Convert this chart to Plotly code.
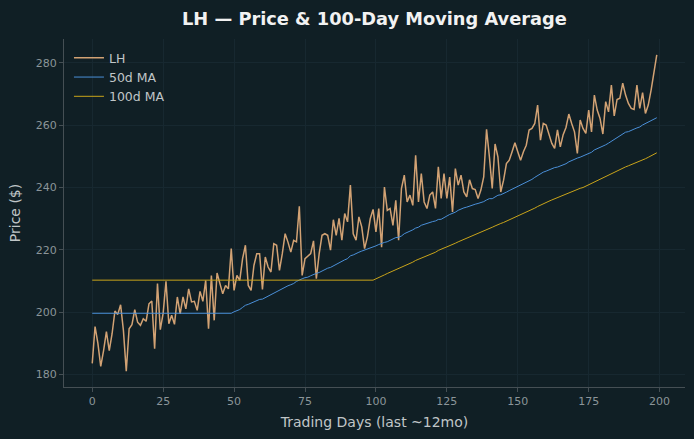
import plotly.graph_objects as go
import pandas as pd

days = list(range(200))
price = [
    183.6, 195.4, 190.0, 182.6, 187.7, 193.8, 187.7, 193.1, 200.4, 199.3,
    202.4, 194.1, 181.1, 194.7, 196.0, 200.8, 196.8, 195.8, 197.9, 197.1,
    202.7, 203.6, 188.3, 209.2, 194.4, 199.7, 209.9, 196.3, 199.0, 196.1,
    204.9, 199.5, 204.9, 201.1, 207.5, 203.3, 203.5, 200.6, 206.7, 203.5,
    210.2, 194.7, 211.8, 197.4, 212.6, 209.2, 205.9, 208.6, 207.5, 220.4,
    207.0, 211.8, 210.2, 217.2, 221.5, 208.6, 207.0, 215.0, 218.8, 218.8,
    207.3, 217.7, 214.5, 212.9, 222.0, 221.5, 213.4, 218.8, 225.2, 222.5,
    219.3, 223.1, 222.6, 234.0, 211.8, 217.2, 217.9, 218.8, 222.9, 210.8,
    218.8, 224.7, 225.2, 224.7, 219.9, 229.7, 224.7, 230.1, 223.1, 231.7,
    229.0, 240.8, 225.2, 223.1, 230.6, 227.4, 220.4, 224.2, 230.0, 233.0,
    225.8, 233.3, 220.9, 240.2, 232.7, 233.3, 227.9, 235.9, 223.1, 239.7,
    244.0, 235.4, 237.6, 234.3, 250.4, 235.4, 244.5, 235.4, 233.3, 237.6,
    238.6, 233.3, 246.7, 236.5, 244.5, 236.5, 243.4, 232.2, 246.1, 240.8,
    244.0, 238.6, 237.0, 242.5, 239.7, 239.4, 236.5, 239.2, 243.4, 258.7,
    249.9, 239.7, 254.0, 249.9, 238.6, 242.4, 247.7, 248.8, 251.5, 254.4,
    251.5, 248.8, 251.5, 253.6, 258.5, 259.0, 260.6, 266.5, 255.2, 260.6,
    260.1, 257.4, 254.2, 252.6, 258.5, 253.1, 257.0, 259.3, 263.6, 260.6,
    257.9, 251.0, 261.7, 259.0, 257.4, 264.9, 257.9, 269.7, 264.9, 262.2,
    257.2, 267.6, 264.3, 272.9, 263.0, 268.3, 268.7, 273.5, 269.7, 267.0,
    265.4, 265.1, 272.9, 265.4, 270.5, 263.8, 266.5, 271.3, 277.2, 282.6,
]
x_ticks = [0, 25, 50, 75, 100, 125, 150, 175, 200]
y_ticks = [180, 200, 220, 240, 260, 280]

s = pd.Series(price)
ma50 = s.rolling(50).mean().bfill().tolist()
ma100 = s.rolling(100).mean().bfill().tolist()

BG = "#101f25"
GRID = "#172830"
SPINE = "#454f54"
TICK = "#8b9599"
LABEL = "#c0c6c8"

fig = go.Figure()
fig.add_trace(go.Scatter(x=days, y=price, mode="lines", name="LH",
                         line=dict(color="#d2a274", width=1.5)))
fig.add_trace(go.Scatter(x=days, y=ma50, mode="lines", name="50d MA",
                         line=dict(color="#4a8fd8", width=1)))
fig.add_trace(go.Scatter(x=days, y=ma100, mode="lines", name="100d MA",
                         line=dict(color="#c9a41a", width=1)))

fig.update_layout(
    width=694, height=439,
    paper_bgcolor=BG, plot_bgcolor=BG,
    margin=dict(l=64, r=9, t=39, b=52),
    font=dict(family="DejaVu Sans", color=LABEL, size=11),
    title=dict(text="<b>LH — Price & 100-Day Moving Average</b>",
               x=0.5395, xanchor="center", y=0.958, yanchor="middle",
               font=dict(size=17.8, color="#f2f2f2", family="DejaVu Sans")),
    showlegend=True,
    legend=dict(x=0.008, y=0.988, xanchor="left", yanchor="top",
                bgcolor="rgba(0,0,0,0)", font=dict(size=12.5, color=LABEL),
                itemwidth=30, tracegroupgap=0),
    xaxis=dict(range=[-9.95, 208.95], tickvals=x_ticks,
               ticks="outside", ticklen=4, tickcolor=SPINE,
               tickfont=dict(size=11, color=TICK),
               showgrid=True, gridcolor=GRID, gridwidth=1,
               zeroline=False, showline=True, linecolor=SPINE, linewidth=1,
               title=dict(text="Trading Days (last ~12mo)",
                          font=dict(size=14, color=LABEL), standoff=9)),
    yaxis=dict(range=[176.0, 287.7], tickvals=y_ticks,
               ticks="outside", ticklen=4, tickcolor=SPINE,
               tickfont=dict(size=11, color=TICK),
               showgrid=True, gridcolor=GRID, gridwidth=1,
               zeroline=False, showline=True, linecolor=SPINE, linewidth=1,
               title=dict(text="Price ($)", font=dict(size=14, color=LABEL),
                          standoff=11)),
)

fig.write_html("out.html")
